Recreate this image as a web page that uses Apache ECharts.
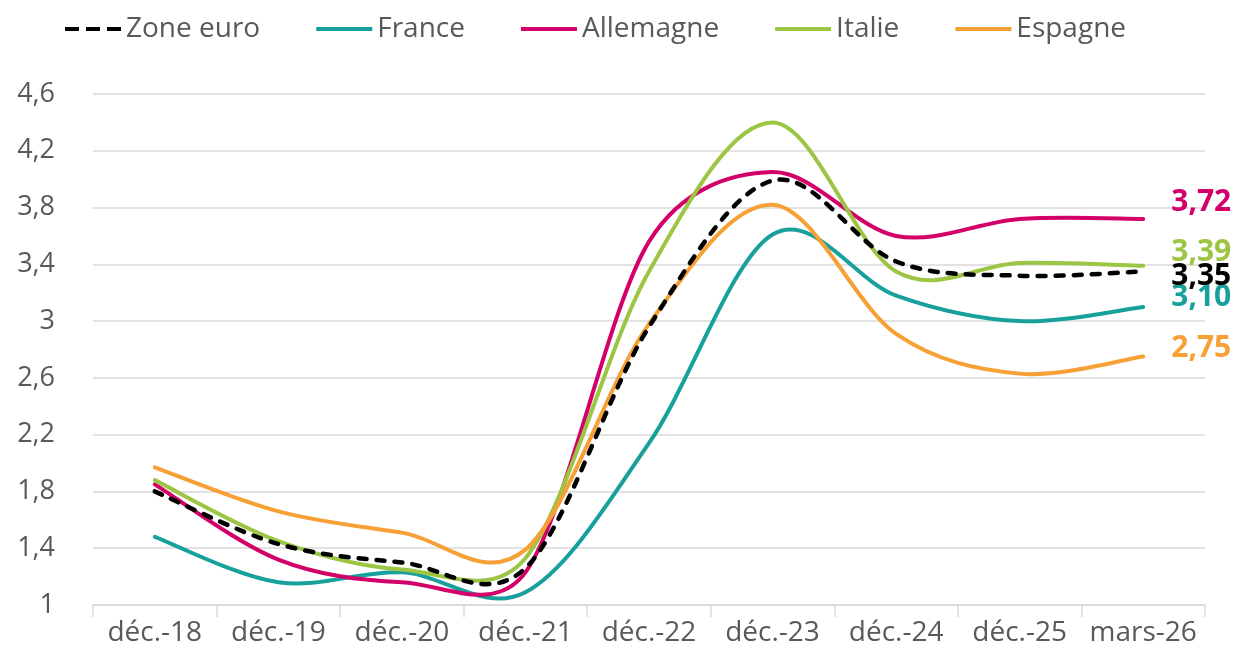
<!DOCTYPE html>
<html>
<head>
<meta charset="utf-8">
<script src="https://cdn.jsdelivr.net/npm/echarts@6/dist/echarts.min.js"></script>
<style>
  html, body { margin: 0; padding: 0; background: #fff; }
  #chart { width: 1235px; height: 660px; }
</style>
</head>
<body>
<div id="chart"></div>
<script>
const categories = ['déc.-18', 'déc.-19', 'déc.-20', 'déc.-21', 'déc.-22', 'déc.-23', 'déc.-24', 'déc.-25', 'mars-26'];
const zoneEuro = [1.80, 1.43, 1.30, 1.26, 2.96, 3.99, 3.42, 3.32, 3.35];
const france = [1.48, 1.16, 1.23, 1.09, 2.14, 3.61, 3.18, 3.00, 3.10];
const allemagne = [1.85, 1.32, 1.16, 1.23, 3.56, 4.05, 3.60, 3.72, 3.72];
const italie = [1.88, 1.45, 1.25, 1.33, 3.35, 4.40, 3.35, 3.41, 3.39];
const espagne = [1.97, 1.66, 1.51, 1.39, 2.98, 3.82, 2.91, 2.63, 2.75];
const yTicks = { min: 1, max: 4.6, step: 0.4 };

const FONT = 'Open Sans';
const GREY = '#595959';
const X_SQUEEZE = 1 / 1.28; // le graphique d'origine était plus étroit

// lissage type Excel : bezier dont les tangentes valent (P[i+1]-P[i-1])/6,
// bornées à la moitié du segment
function smoothPath(pts) {
  const dist = (a, b) => Math.hypot((b[0] - a[0]) * X_SQUEEZE, b[1] - a[1]);
  let d = 'M' + pts[0][0] + ' ' + pts[0][1];
  for (let i = 0; i < pts.length - 1; i++) {
    const p0 = pts[i - 1] || pts[i];
    const p1 = pts[i];
    const p2 = pts[i + 1];
    const p3 = pts[i + 2] || pts[i + 1];
    const d12 = dist(p1, p2);
    const d02 = dist(p0, p2);
    const d13 = dist(p1, p3);
    let f0 = 1 / 6, f3 = 1 / 6;
    if (d02 > 0 && d02 * f0 > d12 / 2) f0 = d12 / 2 / d02;
    if (d13 > 0 && d13 * f3 > d12 / 2) f3 = d12 / 2 / d13;
    const c1 = [p1[0] + (p2[0] - p0[0]) * f0, p1[1] + (p2[1] - p0[1]) * f0];
    const c2 = [p2[0] - (p3[0] - p1[0]) * f3, p2[1] - (p3[1] - p1[1]) * f3];
    d += ' C' + c1.join(' ') + ' ' + c2.join(' ') + ' ' + p2.join(' ');
  }
  return d;
}

function makeSeries(name, values, color, dy, dashed) {
  return {
    name: name,
    type: 'custom',
    z: dashed ? 5 : 2,
    itemStyle: { color: color },
    data: values.map((v, i) => [i, v]),
    renderItem: (params, api) => {
      if (params.dataIndex !== 0) return null;
      const pts = values.map((v, i) => api.coord([i, v]));
      const last = pts[pts.length - 1];
      return {
        type: 'group',
        children: [
          {
            type: 'path',
            shape: { pathData: smoothPath(pts) },
            style: {
              fill: 'none',
              stroke: color,
              lineWidth: dashed ? 4.5 : 4,
              lineDash: dashed ? [8, 10] : null,
              lineCap: 'round',
            },
          },
          {
            type: 'text',
            x: last[0] + 28,
            y: last[1] + dy,
            style: {
              text: values[values.length - 1].toFixed(2).replace('.', ','),
              fill: color,
              font: 'bold 30px "' + FONT + '"',
              verticalAlign: 'middle',
              align: 'left',
            },
          },
        ],
      };
    },
  };
}

const dashIcon = 'path://M0,0h14v4h-14z M21,0h14v4h-14z M42,0h14v4h-14z';

const chart = echarts.init(document.getElementById('chart'));
chart.setOption({
  animation: false,
  textStyle: { fontFamily: FONT },
  legend: {
    data: [
      { name: 'Zone euro', icon: dashIcon },
      { name: 'France', icon: 'rect' },
      { name: 'Allemagne', icon: 'rect' },
      { name: 'Italie', icon: 'rect' },
      { name: 'Espagne', icon: 'rect' },
    ],
    left: 60,
    top: 10,
    itemWidth: 56,
    itemHeight: 4,
    itemGap: 56,
    textStyle: { fontFamily: FONT, fontSize: 28, color: GREY },
  },
  grid: { left: 93, right: 30, top: 94, bottom: 55 },
  xAxis: {
    type: 'category',
    data: categories,
    boundaryGap: true,
    axisLine: { lineStyle: { color: '#d9d9d9', width: 1.5 } },
    axisTick: { show: true, length: 12, lineStyle: { color: '#d9d9d9', width: 1.5 } },
    axisLabel: { interval: 0, fontFamily: FONT, fontSize: 28, color: GREY, margin: 14 },
  },
  yAxis: {
    type: 'value',
    min: yTicks.min,
    max: yTicks.max,
    interval: yTicks.step,
    axisLine: { show: false },
    axisTick: { show: false },
    splitLine: { lineStyle: { color: '#d9d9d9', width: 1.5 } },
    axisLabel: {
      fontFamily: FONT,
      fontSize: 27,
      color: GREY,
      margin: 38,
      formatter: v => String(+v.toFixed(1)).replace('.', ','),
    },
  },
  series: [
    makeSeries('Zone euro', zoneEuro, '#000000', 5, true),
    makeSeries('France', france, '#17a09c', -9, false),
    makeSeries('Allemagne', allemagne, '#d4006a', -16, false),
    makeSeries('Italie', italie, '#9bc542', -13, false),
    makeSeries('Espagne', espagne, '#f6a035', -8, false),
  ],
});
</script>
</body>
</html>
